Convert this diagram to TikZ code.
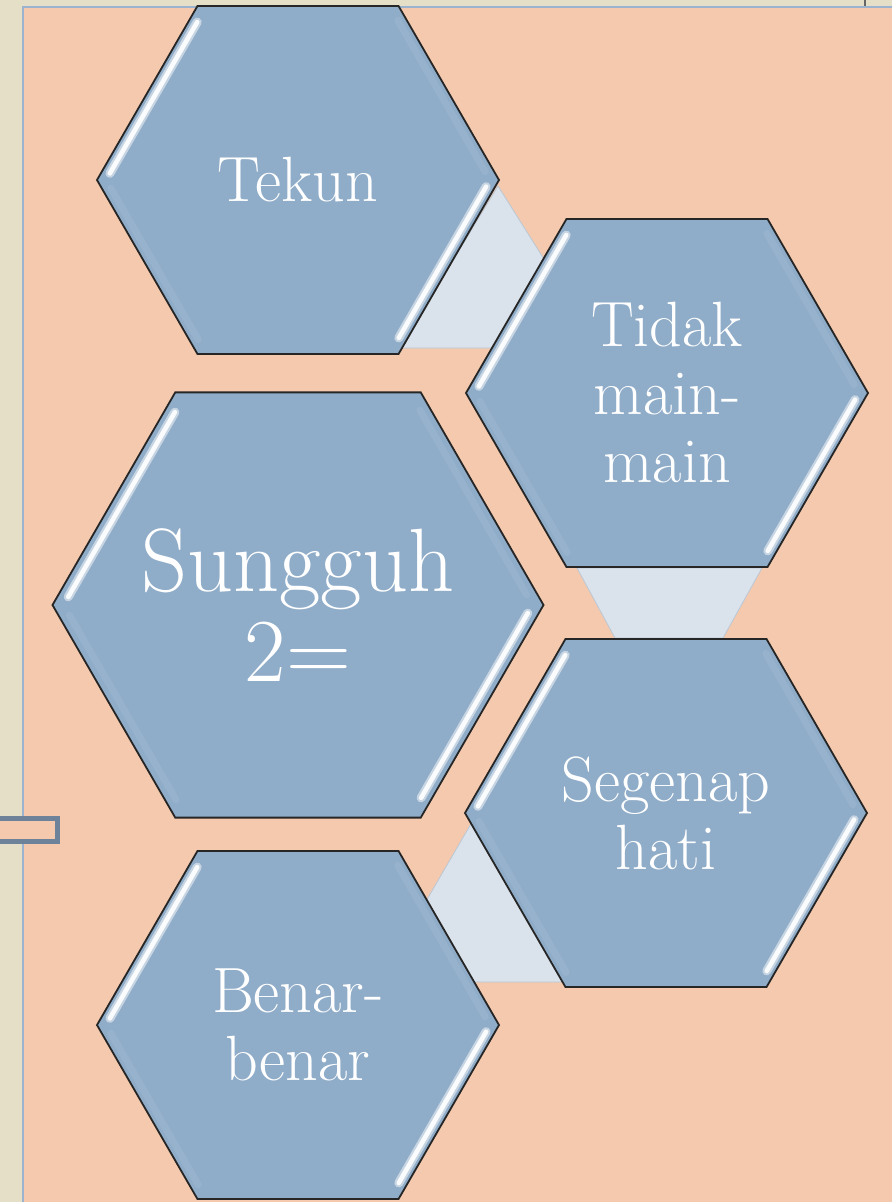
\documentclass[tikz,border=0pt]{standalone}
\usepackage{fontspec}
\usetikzlibrary{shapes.geometric,calc}
\definecolor{salmon}{HTML}{F4C9AE}
\definecolor{beige}{HTML}{E6DFC8}
\definecolor{frameblue}{HTML}{9BB3CF}
\definecolor{hexfill}{HTML}{8FACC8}
\definecolor{linkfill}{HTML}{DAE2EB}
\definecolor{linkedge}{HTML}{BCC8D4}
\definecolor{rectedge}{HTML}{6E8399}
\tikzset{
  hexa/.style={regular polygon, regular polygon sides=6, fill=hexfill, draw=black!85,
    line width=1.8pt, inner sep=0pt, outer sep=0pt},
  label/.style={text=white, align=center, inner sep=0pt},
  smalltext/.style={font=\fontsize{64}{68}\selectfont},
  bigtext/.style={font=\fontsize{90}{90}\selectfont},
  linkshape/.style={fill=linkfill, draw=linkedge, line width=0.8pt},
  hlglow/.style={white, opacity=0.5, line width=9pt, line cap=round},
  hlcore/.style={white!95!hexfill, line width=4.6pt, line cap=round},
  hlsoft/.style={white, opacity=0.08, line width=7pt, line cap=round}
}
\newcommand\hexedge[4]{%
  \draw[#4] ($(#1.center)!0.955!($(#1.#2)!0.04!(#1.#3)$)$) -- ($(#1.center)!0.955!($(#1.#2)!0.95!(#1.#3)$)$);}
\newcommand\hexshine[1]{%
  \hexedge{#1}{180}{120}{hlglow}\hexedge{#1}{0}{300}{hlglow}%
  \hexedge{#1}{180}{120}{hlcore}\hexedge{#1}{0}{300}{hlcore}%
  \hexedge{#1}{60}{0}{hlsoft}\hexedge{#1}{240}{180}{hlsoft}}
\begin{document}
\begin{tikzpicture}[x=1pt,y=-1pt]
\useasboundingbox (0,0) rectangle (892,1202);
% background
\fill[salmon] (0,0) rectangle (892,1202);
\fill[beige] (0,0) rectangle (22,1202);
\fill[beige] (0,0) rectangle (892,6);
\draw[frameblue, line width=2pt] (22.5,7) -- (22.5,1202);
\draw[frameblue, line width=2pt] (22,7) -- (892,7);
\draw[black!60, line width=1.5pt] (865,0) -- (865,6);
% connectors (behind hexagons)
\filldraw[linkshape] (498,186) -- (600,348) -- (400,348) -- cycle;
\filldraw[linkshape] (577,568) -- (762,568) -- (723,638) -- (615,638) -- cycle;
\filldraw[linkshape] (472,822) -- (570,982) -- (379,982) -- cycle;
% side tab
\draw[rectedge, line width=5pt, fill=salmon] (-5,818.5) rectangle (57.5,841.5);
% hexagons
\node[hexa, minimum size=402pt] (tekun) at (298,180) {};
\node[hexa, minimum size=402pt] (tidak) at (667,393) {};
\node[hexa, minimum size=491pt] (sungguh) at (298,605) {};
\node[hexa, minimum size=402pt] (segenap) at (666,813) {};
\node[hexa, minimum size=402pt] (benar) at (298,1025) {};
\hexshine{tekun}
\hexshine{tidak}
\hexshine{sungguh}
\hexshine{segenap}
\hexshine{benar}
% labels
\node[label, smalltext] (tekuntxt) at (tekun.center) {Tekun};
\node[label, smalltext] (tidaktxt) at (tidak.center) {Tidak\\main-\\main};
\node[label, bigtext] (sungguhtxt) at (sungguh.center) {Sungguh\\2=};
\node[label, smalltext] (segenaptxt) at (segenap.center) {Segenap\\hati};
\node[label, smalltext] (benartxt) at (benar.center) {Benar-\\benar};
\end{tikzpicture}
\end{document}
